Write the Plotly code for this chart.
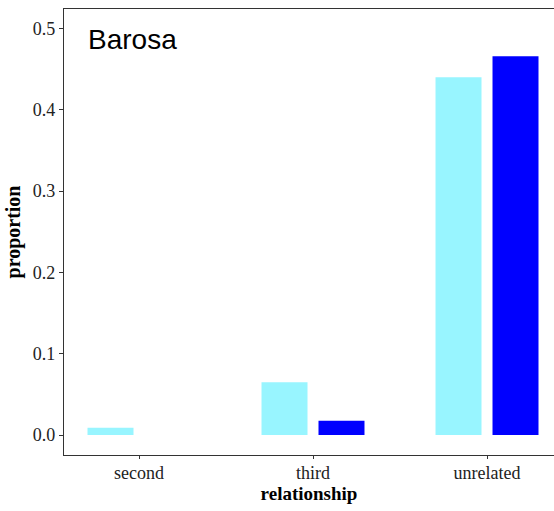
import plotly.graph_objects as go

# Proportion of pairs by relationship class, two groups per class
relationship = ["second", "third", "unrelated"]
group_a = [0.009, 0.065, 0.440]
group_b = [None, 0.0175, 0.466]

color_a = "#98F5FF"
color_b = "#0000FF"

serif = "Liberation Serif, Times New Roman, serif"

fig = go.Figure()
fig.add_trace(go.Bar(x=relationship, y=group_a, marker=dict(color=color_a, line=dict(width=0)),
                     showlegend=False))
fig.add_trace(go.Bar(x=relationship, y=group_b, marker=dict(color=color_b, line=dict(width=0)),
                     showlegend=False))

fig.update_layout(
    width=554, height=511,
    margin=dict(l=64, r=0, t=9, b=56),
    paper_bgcolor="white", plot_bgcolor="white",
    barmode="group", bargap=0.345, bargroupgap=0.193,
    font=dict(family=serif, size=18, color="#333333"),
    annotations=[dict(text="Barosa", x=0.045, y=0.97, xref="paper", yref="paper",
                      xanchor="left", yanchor="top", showarrow=False,
                      font=dict(family="Liberation Sans, Arial, sans-serif", size=28, color="black"))],
)

fig.update_xaxes(
    type="category", range=[-0.431, 2.385],
    showline=True, linecolor="#333333", linewidth=1.3, mirror=True,
    ticks="outside", ticklen=3, tickcolor="#333333", ticklabelstandoff=-2,
    tickfont=dict(family=serif, size=18, color="#222222"),
    showgrid=False, zeroline=False,
    title=dict(text="<b>relationship</b>", font=dict(family=serif, size=19, color="black"), standoff=2),
)
fig.update_yaxes(
    range=[-0.0245, 0.524], tickvals=[0, 0.1, 0.2, 0.3, 0.4, 0.5], tickformat=".1f",
    showline=True, linecolor="#333333", linewidth=1.3,
    ticks="outside", ticklen=4, tickcolor="#333333",
    tickfont=dict(family=serif, size=18, color="#222222"),
    showgrid=False, zeroline=False,
    title=dict(text="<b>proportion</b>", font=dict(family=serif, size=20, color="black"), standoff=6),
)

fig.write_html("out.html")
